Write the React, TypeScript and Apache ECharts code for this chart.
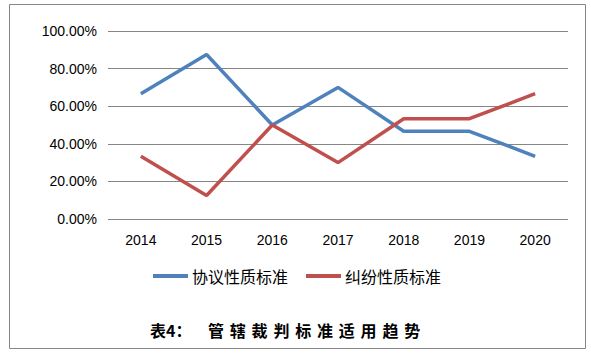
import React, { useEffect, useRef } from "react";
import * as echarts from "echarts";

const categories = ["2014", "2015", "2016", "2017", "2018", "2019", "2020"];
const agreementSeries = [66.67, 87.5, 50, 70, 46.67, 46.67, 33.33];
const disputeSeries = [33.33, 12.5, 50, 30, 53.33, 53.33, 66.67];
const seriesNames = ["协议性质标准", "纠纷性质标准"];
const titlePrefix = "表4：";
const titleRest = "管辖裁判标准适用趋势";

export default function App() {
  const ref = useRef<HTMLDivElement>(null);
  useEffect(() => {
    document.body.style.margin = "0";
    const chart = echarts.init(ref.current!, null, { renderer: "svg" });
    const titleChars = titleRest.split("").map((ch, i) => ({
      type: "text",
      x: 208 + i * 21.8,
      y: 330,
      style: {
        text: ch,
        font: "bold 16px 'Noto Sans CJK SC'",
        fill: "#000",
        textVerticalAlign: "middle",
      },
    }));
    chart.setOption({
      animation: false,
      backgroundColor: "#fff",
      grid: { left: 108, right: 23, top: 31, bottom: 137 },
      xAxis: {
        type: "category",
        data: categories,
        boundaryGap: true,
        axisLine: { show: false },
        axisTick: { show: false },
        axisLabel: {
          margin: 14,
          fontSize: 14,
          fontFamily: "Liberation Sans",
          color: "#000",
        },
      },
      yAxis: {
        type: "value",
        min: 0,
        max: 100,
        interval: 20,
        axisLine: { show: false },
        axisTick: { show: false },
        axisLabel: {
          margin: 11,
          fontSize: 14,
          fontFamily: "Liberation Sans",
          color: "#000",
          formatter: (v: number) => v.toFixed(2) + "%",
        },
        splitLine: { lineStyle: { color: "#868686", width: 1 } },
      },
      legend: {
        left: 153,
        top: 268,
        padding: 0,
        icon: "rect",
        itemWidth: 35,
        itemHeight: 4,
        itemGap: 18,
        textStyle: {
          fontSize: 16,
          fontFamily: "Noto Sans CJK SC",
          color: "#000",
          padding: [0, 0, 0, -1],
        },
        data: seriesNames,
      },
      series: [
        {
          name: seriesNames[0],
          type: "line",
          data: agreementSeries,
          symbol: "none",
          lineStyle: { color: "#4F81BD", width: 3.5 },
          itemStyle: { color: "#4F81BD" },
        },
        {
          name: seriesNames[1],
          type: "line",
          data: disputeSeries,
          symbol: "none",
          lineStyle: { color: "#C0504D", width: 3.5 },
          itemStyle: { color: "#C0504D" },
        },
      ],
      graphic: [
        {
          type: "rect",
          shape: { x: 9.5, y: 4.5, width: 576, height: 344 },
          style: { fill: "none", stroke: "#868686", lineWidth: 1 },
          silent: true,
        },
        {
          type: "text",
          x: 150,
          y: 330,
          style: {
            text: titlePrefix,
            font: "bold 16px 'Noto Sans CJK SC'",
            fill: "#000",
            textVerticalAlign: "middle",
          },
        },
        ...titleChars,
      ],
    });
    return () => chart.dispose();
  }, []);
  return <div ref={ref} style={{ width: 591, height: 356 }} />;
}
